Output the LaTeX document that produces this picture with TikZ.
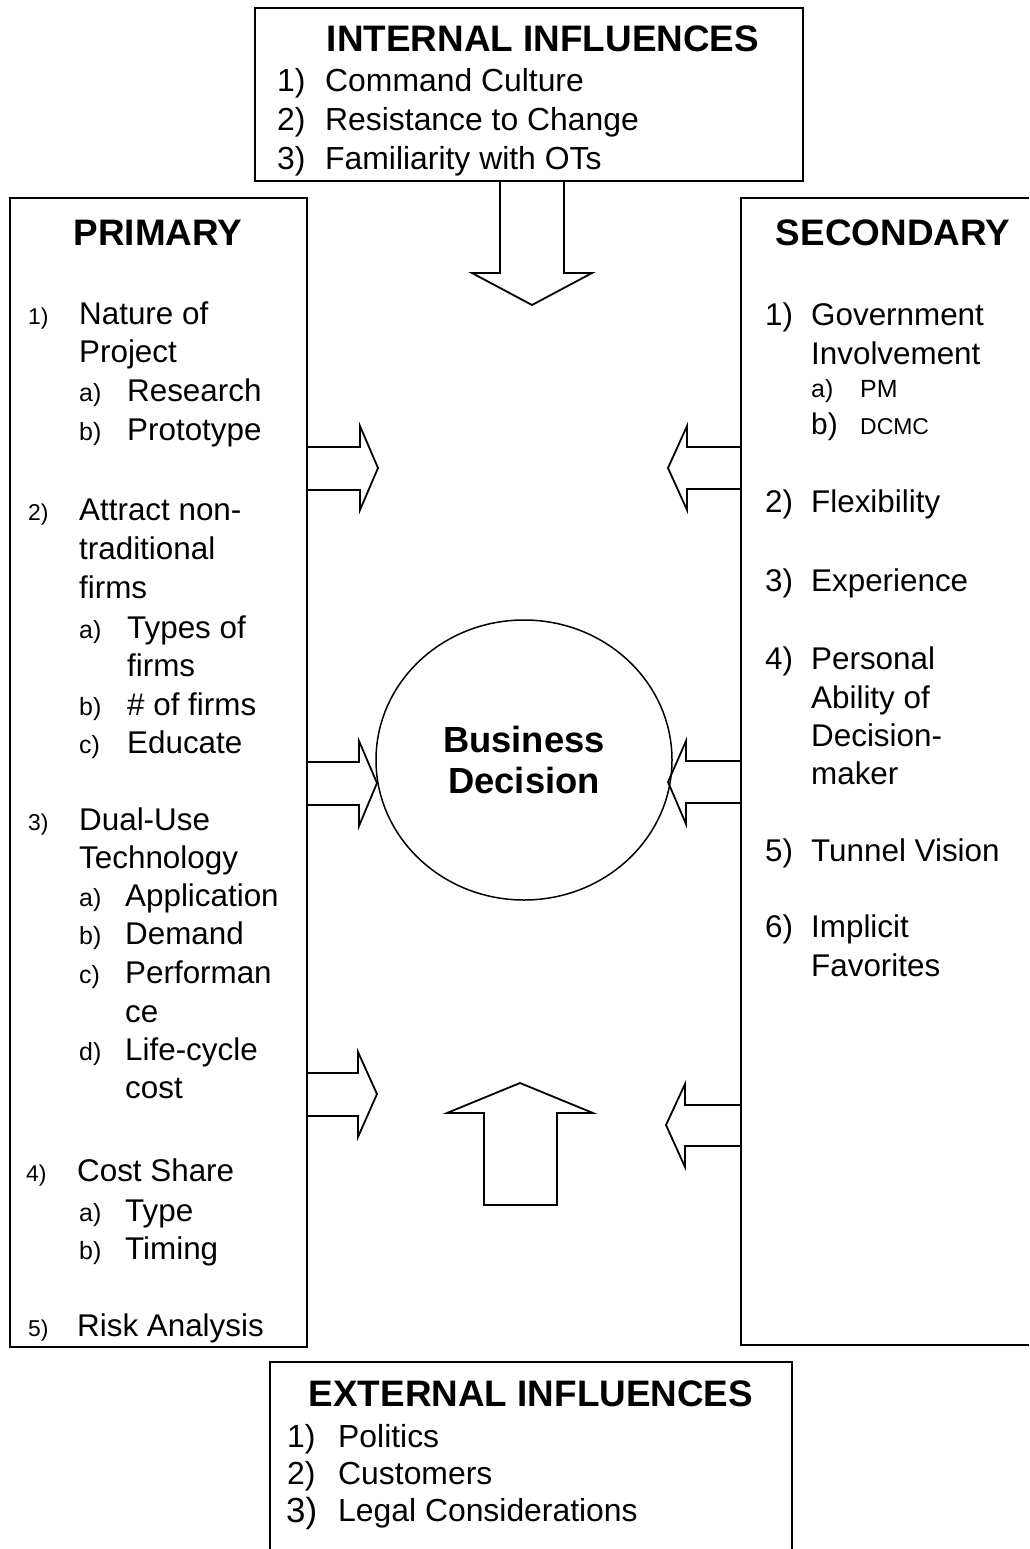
\documentclass[tikz,border=0pt]{standalone}
\usepackage{fontspec}
\setmainfont{Liberation Sans}
\usepackage{tikz}
\usetikzlibrary{shapes.geometric}

\tikzset{
    boxline/.style = {line width = 1.8bp},
    fat/.style = {line width = 1.8bp, line join = miter},
    ttl/.style = {font = {\bfseries\fontsize{37}{40}\selectfont}, inner sep = 0pt, anchor = base},
    itm/.style = {font = {\fontsize{31.5}{38}\selectfont}, inner sep = 0pt, anchor = base west},
    itmsm/.style = {font = {\fontsize{32}{36}\selectfont}, inner sep = 0pt, anchor = base west},
    nosm/.style = {font = {\fontsize{23}{30}\selectfont}, inner sep = 0pt, anchor = base west},
    nomid/.style = {font = {\fontsize{25}{30}\selectfont}, inner sep = 0pt, anchor = base west}
}

\begin{document}
\begin{tikzpicture}[x = 1bp, y = -1bp]
        \useasboundingbox (0, 0) rectangle (1029, 1549);

        % boxes
        \draw[boxline] (255, 8) rectangle (803, 181);
        \draw[boxline] (10, 198) rectangle (307, 1347);
        \draw[boxline] (1029, 198) -| (741, 1345) -- (1029, 1345);
        \draw[boxline] (270, 1549) |- (792, 1362) -- (792, 1549);

        \node[draw, ellipse, line width = 1.5bp, minimum width = 296bp, minimum height = 280bp, align = center,
              font = {\bfseries\fontsize{36.5}{42}\selectfont}] (bd) at (524, 760) {Business\\Decision};

        % block arrows
        \draw[fat] (500, 181) -- (500, 273) -- (472, 273) -- (532, 305) -- (592, 273) -- (564, 273) -- (564, 181);
        \draw[fat] (520, 1083) -- (593, 1113) -- (557, 1113) -- (557, 1205) -- (484, 1205) -- (484, 1113) -- (447, 1113) -- cycle;
        \draw[fat] (307, 447) -- (360, 447) -- (360, 426) -- (378, 468) -- (360, 510) -- (360, 490) -- (307, 490);
        \draw[fat] (307, 762) -- (359, 762) -- (359, 741) -- (377, 783) -- (359, 826) -- (359, 805) -- (307, 805);
        \draw[fat] (307, 1073) -- (358, 1073) -- (358, 1052) -- (377, 1094) -- (358, 1137) -- (358, 1116) -- (307, 1116);
        \draw[fat] (741, 447) -- (687, 447) -- (687, 426) -- (668, 468) -- (687, 510) -- (687, 489) -- (741, 489);
        \draw[fat] (741, 761) -- (686, 761) -- (686, 741) -- (668, 782) -- (686, 824) -- (686, 803) -- (741, 803);
        \draw[fat] (741, 1105) -- (685, 1105) -- (685, 1084) -- (666, 1125) -- (685, 1167) -- (685, 1146) -- (741, 1146);

        % internal influences
        \node[ttl] (intl) at (543, 52) {INTERNAL INFLUENCES};
        \node[itmsm] (in1) at (277, 92) {1)};
        \node[itmsm] (in1t) at (325, 92) {Command Culture};
        \node[itmsm] (in2) at (277, 131) {2)};
        \node[itmsm] (in2t) at (325, 131) {Resistance to Change};
        \node[itmsm] (in3) at (277, 169) {3)};
        \node[itmsm] (in3t) at (325, 169) {Familiarity with OTs};

        % primary
        \node[ttl] (pri) at (158, 245) {PRIMARY};
        \node[nosm] (p1) at (28, 324) {1)};
        \node[itm] (p1t) at (79, 324) {Nature of};
        \node[itm] (p1u) at (79, 362) {Project};
        \node[nomid] (p1a) at (79, 401) {a)};
        \node[itm] (p1at) at (127, 401) {Research};
        \node[nomid] (p1b) at (79, 440) {b)};
        \node[itm] (p1bt) at (127, 440) {Prototype};
        \node[nosm] (p2) at (28, 520) {2)};
        \node[itm] (p2t) at (79, 520) {Attract non-};
        \node[itm] (p2u) at (79, 559) {traditional};
        \node[itm] (p2v) at (79, 598) {firms};
        \node[nomid] (p2a) at (79, 638) {a)};
        \node[itm] (p2at) at (127, 638) {Types of};
        \node[itm] (p2au) at (127, 676) {firms};
        \node[nomid] (p2b) at (79, 715) {b)};
        \node[itm] (p2bt) at (127, 715) {\# of firms};
        \node[nomid] (p2c) at (79, 753) {c)};
        \node[itm] (p2ct) at (127, 753) {Educate};
        \node[nosm] (p3) at (28, 830) {3)};
        \node[itm] (p3t) at (79, 830) {Dual-Use};
        \node[itm] (p3u) at (79, 868) {Technology};
        \node[nomid] (p3a) at (79, 906) {a)};
        \node[itm] (p3at) at (125, 906) {Application};
        \node[nomid] (p3b) at (79, 944) {b)};
        \node[itm] (p3bt) at (125, 944) {Demand};
        \node[nomid] (p3c) at (79, 983) {c)};
        \node[itm] (p3ct) at (125, 983) {Performan};
        \node[itm] (p3cu) at (125, 1022) {ce};
        \node[nomid] (p3d) at (79, 1060) {d)};
        \node[itm] (p3dt) at (125, 1060) {Life-cycle};
        \node[itm] (p3du) at (125, 1098) {cost};
        \node[nosm] (p4) at (26, 1181) {4)};
        \node[itm] (p4t) at (77, 1181) {Cost Share};
        \node[nomid] (p4a) at (79, 1221) {a)};
        \node[itm] (p4at) at (125, 1221) {Type};
        \node[nomid] (p4b) at (79, 1259) {b)};
        \node[itm] (p4bt) at (125, 1259) {Timing};
        \node[nosm] (p5) at (28, 1336) {5)};
        \node[itm] (p5t) at (77, 1336) {Risk Analysis};

        % secondary
        \node[ttl] (sec) at (893, 245) {SECONDARY};
        \node[itm] (s1) at (765, 325) {1)};
        \node[itm] (s1t) at (811, 325) {Government};
        \node[itm] (s1u) at (811, 364) {Involvement};
        \node[nomid] (s1a) at (811, 397) {a)};
        \node[nomid] (s1at) at (860, 397) {PM};
        \node[itmsm, font = {\fontsize{30}{36}\selectfont}] (s1b) at (811, 434) {b)};
        \node[nosm] (s1bt) at (860, 434) {DCMC};
        \node[itm] (s2) at (765, 512) {2)};
        \node[itm] (s2t) at (811, 512) {Flexibility};
        \node[itm] (s3) at (765, 591) {3)};
        \node[itm] (s3t) at (811, 591) {Experience};
        \node[itm] (s4) at (765, 669) {4)};
        \node[itm] (s4t) at (811, 669) {Personal};
        \node[itm] (s4u) at (811, 708) {Ability of};
        \node[itm] (s4v) at (811, 746) {Decision-};
        \node[itm] (s4w) at (811, 784) {maker};
        \node[itm] (s5) at (765, 861) {5)};
        \node[itm] (s5t) at (811, 861) {Tunnel Vision};
        \node[itm] (s6) at (765, 937) {6)};
        \node[itm] (s6t) at (811, 937) {Implicit};
        \node[itm] (s6u) at (811, 976) {Favorites};

        % external influences
        \node[ttl] (extl) at (531, 1406) {EXTERNAL INFLUENCES};
        \node[itmsm] (ex1) at (287, 1447) {1)};
        \node[itmsm] (ex1t) at (338, 1447) {Politics};
        \node[itmsm] (ex2) at (287, 1484) {2)};
        \node[itmsm] (ex2t) at (338, 1484) {Customers};
        \node[itmsm, font = {\fontsize{35}{38}\selectfont}] (ex3) at (286, 1522) {3)};
        \node[itmsm] (ex3t) at (338, 1521) {Legal Considerations};
\end{tikzpicture}
\end{document}
